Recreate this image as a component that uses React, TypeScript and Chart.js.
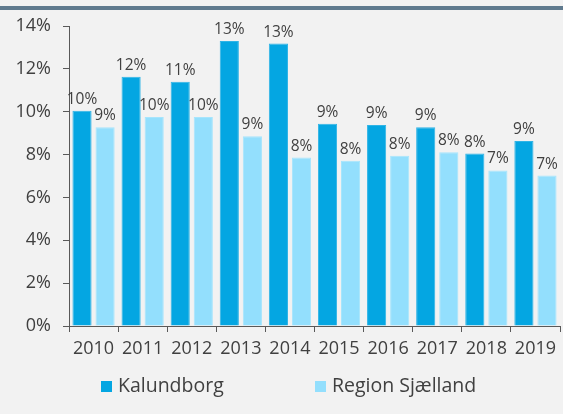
import React, { useEffect, useRef } from "react";
import { Chart, registerables } from "chart.js";

Chart.register(...registerables);

const categories = ["2010", "2011", "2012", "2013", "2014", "2015", "2016", "2017", "2018", "2019"];
const kalundborg = [10.05, 11.63, 11.4, 13.3, 13.18, 9.44, 9.38, 9.28, 8.05, 8.63];
const regionSjaelland = [9.27, 9.75, 9.75, 8.85, 7.86, 7.71, 7.94, 8.11, 7.26, 7.02];
const seriesNames = ["Kalundborg", "Region Sjælland"];
const yMin = 0;
const yMax = 14;
const yStep = 2;

const FONT = "'Open Sans', 'DejaVu Sans', sans-serif";
const TEXT = "#404040";
const AXIS = "#595959";
const COLORS = ["#04a6e2", "#93dffd"];
const BORDERS = ["#2fb4e6", "#a6e5fd"];

const decorPlugin = {
  id: "decor",
  beforeDraw(chart: any) {
    const { ctx, width, height } = chart;
    ctx.save();
    ctx.fillStyle = "#f2f2f2";
    ctx.fillRect(0, 0, width, height);
    ctx.fillStyle = "#5f7a8e";
    ctx.fillRect(0, 6, width, 4);
    ctx.restore();
  },
  afterDatasetsDraw(chart: any) {
    const { ctx } = chart;
    ctx.save();
    ctx.font = `15.5px ${FONT}`;
    ctx.fillStyle = TEXT;
    ctx.textAlign = "center";
    ctx.textBaseline = "alphabetic";
    chart.data.datasets.forEach((ds: any, di: number) => {
      const meta = chart.getDatasetMeta(di);
      meta.data.forEach((bar: any, i: number) => {
        const v = ds.data[i] as number;
        ctx.fillText(`${Math.round(v)}%`, bar.x, bar.y - 7);
      });
    });
    ctx.restore();
  },
  afterDraw(chart: any) {
    const { ctx } = chart;
    const boxX = [101, 315];
    const cy = 386.5;
    ctx.save();
    ctx.font = `19.5px ${FONT}`;
    ctx.textBaseline = "middle";
    ctx.textAlign = "left";
    chart.data.datasets.forEach((ds: any, di: number) => {
      ctx.fillStyle = ds.backgroundColor;
      ctx.fillRect(boxX[di], cy - 5.5, 11, 11);
      ctx.fillStyle = TEXT;
      ctx.fillText(ds.label, boxX[di] + 17, cy);
    });
    ctx.restore();
  },
};

export default function App() {
  const ref = useRef<HTMLCanvasElement | null>(null);

  useEffect(() => {
    document.body.style.margin = "0";
    if (!ref.current) return;
    const chart = new Chart(ref.current, {
      type: "bar",
      data: {
        labels: categories,
        datasets: [
          {
            label: seriesNames[0],
            data: kalundborg,
            backgroundColor: COLORS[0],
            borderColor: BORDERS[0],
            borderWidth: 1,
            categoryPercentage: 0.94,
            barPercentage: 0.83,
          },
          {
            label: seriesNames[1],
            data: regionSjaelland,
            backgroundColor: COLORS[1],
            borderColor: BORDERS[1],
            borderWidth: 1,
            categoryPercentage: 0.94,
            barPercentage: 0.83,
          },
        ],
      },
      options: {
        responsive: false,
        animation: false,
        events: [],
        layout: { padding: { left: 0, right: 3, top: 26, bottom: 0 } },
        plugins: {
          legend: { display: false },
          tooltip: { enabled: false },
          title: { display: false },
        },
        scales: {
          x: {
            grid: {
              drawOnChartArea: false,
              drawTicks: true,
              tickLength: 6,
              color: AXIS,
              offset: true,
            },
            border: { display: true, color: AXIS, width: 1 },
            ticks: {
              color: TEXT,
              font: { family: FONT, size: 18 },
              padding: 6,
              maxRotation: 0,
              autoSkip: false,
            },
            afterFit: (scale: any) => {
              scale.height = 88;
            },
          },
          y: {
            min: yMin,
            max: yMax,
            grid: {
              drawOnChartArea: false,
              drawTicks: true,
              tickLength: 6,
              color: AXIS,
            },
            border: { display: true, color: AXIS, width: 1 },
            ticks: {
              stepSize: yStep,
              color: TEXT,
              font: { family: FONT, size: 18 },
              padding: 12,
              callback: (v: any) => `${v}%`,
            },
            afterFit: (scale: any) => {
              scale.width = 69;
            },
          },
        },
      },
      plugins: [decorPlugin],
    });
    return () => chart.destroy();
  }, []);

  return (
    <canvas
      ref={ref}
      width={563}
      height={414}
      style={{ display: "block", width: 563, height: 414 }}
    />
  );
}
